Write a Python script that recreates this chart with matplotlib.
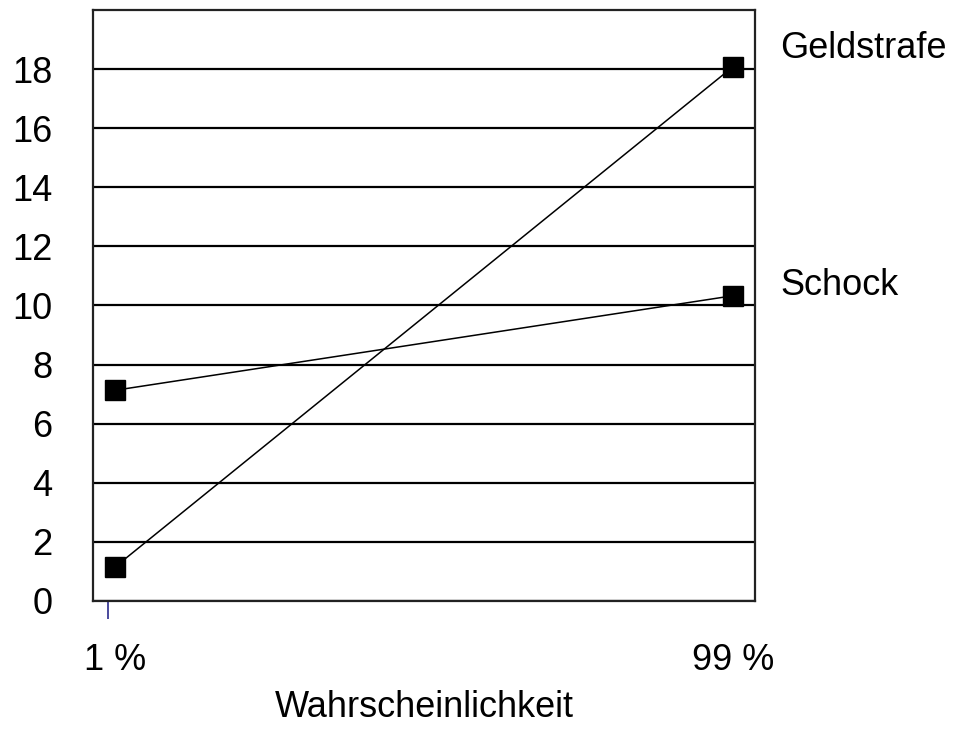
import matplotlib
matplotlib.use("Agg")
import matplotlib.pyplot as plt
from matplotlib.ticker import FixedLocator

plt.rcParams['font.family'] = ['Liberation Sans', 'DejaVu Sans']

# Werte je Wahrscheinlichkeit
categories = ['1 %', '99 %']
geldstrafe = [1.15, 18.08]
schock = [7.13, 10.33]
series_names = ['Geldstrafe', 'Schock']
yticks = list(range(0, 20, 2))

FS = 26

fig = plt.figure(figsize=(9.55, 7.29), dpi=100)
ax = fig.add_axes([0.0974, 0.1756, 0.6932, 0.8107])

x = range(len(categories))
for vals in (geldstrafe, schock):
    ax.plot(x, vals, color='black', lw=1.1, marker='s', markersize=15,
            markerfacecolor='black', markeredgecolor='black', zorder=3,
            clip_on=False)

# Beschriftung rechts neben dem letzten Punkt
for name, vals, dy in zip(series_names, [geldstrafe, schock], [18, 10]):
    ax.annotate(name, xy=(1.0356, vals[-1]), xytext=(25, dy),
                textcoords='offset pixels', fontsize=FS,
                ha='left', va='center', annotation_clip=False)

ax.set_xlim(-0.0356, 1.0356)
ax.set_ylim(0, 20)
ax.set_yticks(yticks)
ax.set_yticklabels([str(v) for v in yticks], fontsize=FS)
ax.yaxis.grid(True, color='black', lw=1.6)
ax.set_axisbelow(True)
ax.tick_params(axis='y', length=0, pad=29)

ax.set_xticks(list(x))
ax.set_xticklabels(categories, fontsize=FS)
ax.tick_params(axis='x', which='major', length=0, pad=30)
ax.xaxis.set_minor_locator(FixedLocator([-0.011]))
ax.tick_params(axis='x', which='minor', length=13, width=1.2,
               color='#2b2b8c', direction='out')

ax.set_xlabel('Wahrscheinlichkeit', fontsize=FS, labelpad=9)

for sp in ax.spines.values():
    sp.set_linewidth(1.6)
    sp.set_color('#222222')

fig.savefig('out.png', dpi=100)
